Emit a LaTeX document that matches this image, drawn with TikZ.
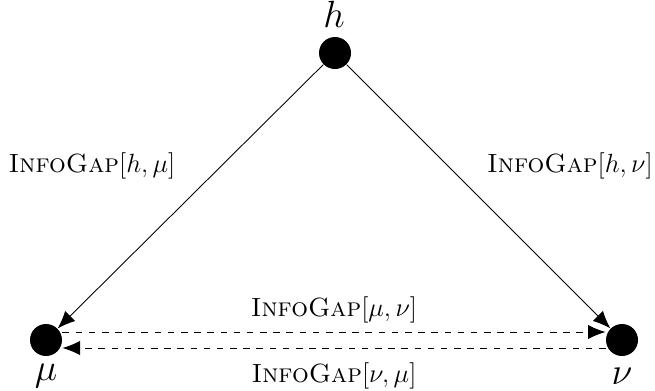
\documentclass[tikz,border=0pt]{standalone}
\usetikzlibrary{arrows.meta}
\begin{document}
\begin{tikzpicture}[x=0.016cm,y=-0.016cm,
  vtx/.style={circle,fill=black,inner sep=0pt,minimum size=32*0.016cm},
  lbl/.style={font=\large,inner sep=0pt},
  vlbl/.style={font=\LARGE,inner sep=0pt},
  arr/.style={-{Latex[length=8pt,width=6.5pt]}},
  darr/.style={arr,dashed}]
\useasboundingbox (0,0) rectangle (655,390);
\node[vtx] (h) at (335,53) {};
\node[vtx] (mu) at (46,340) {};
\node[vtx] (nu) at (622,340) {};
\node[vlbl] (hl) at (334,14) {$h$};
\node[vlbl] (mul) at (46,376) {$\mu$};
\node[vlbl] (nul) at (622,376) {$\nu$};
\draw[arr] (h) -- (mu);
\draw[arr] (h) -- (nu);
\draw[darr] (mu.east |- 0,332) -- (nu.west |- 0,332);
\draw[darr] (nu.west |- 0,348) -- (mu.east |- 0,348);
\node[lbl] (l1) at (92,166) {\textsc{InfoGap}$[h,\mu]$};
\node[lbl] (l2) at (570,166) {\textsc{InfoGap}$[h,\nu]$};
\node[lbl] (l3) at (334,310) {\textsc{InfoGap}$[\mu,\nu]$};
\node[lbl] (l4) at (334,376) {\textsc{InfoGap}$[\nu,\mu]$};
\end{tikzpicture}
\end{document}
